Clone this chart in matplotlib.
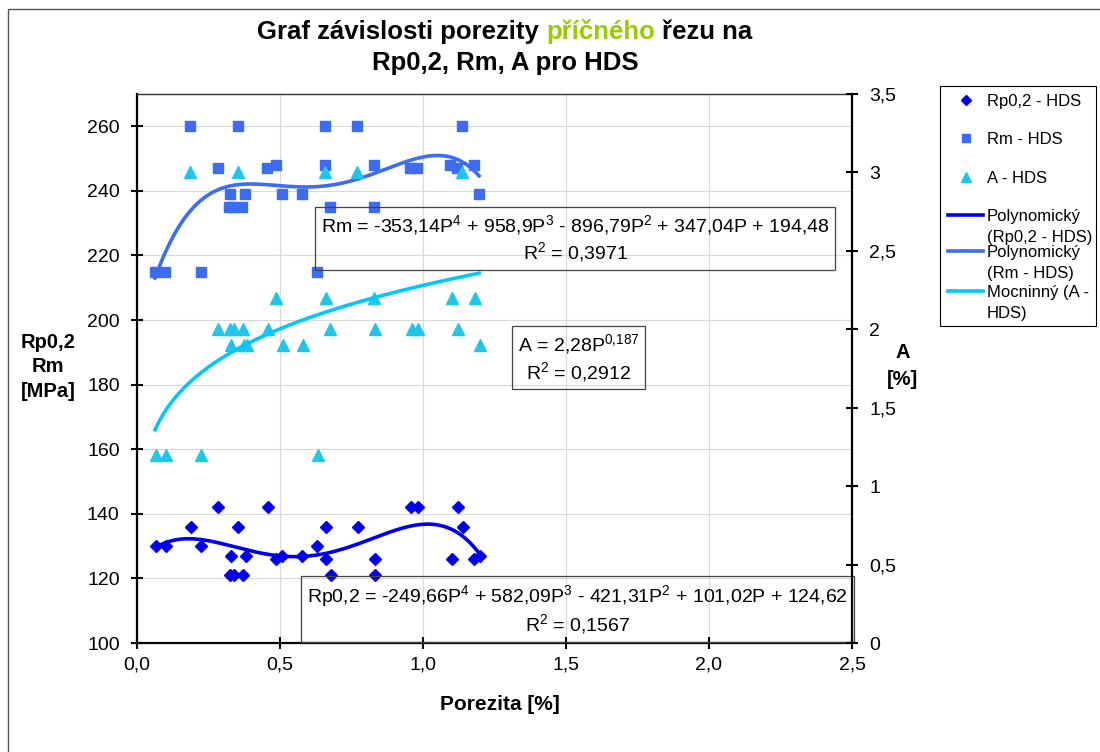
import matplotlib
matplotlib.use("Agg")
import matplotlib.pyplot as plt
import numpy as np
from matplotlib.lines import Line2D
from matplotlib.patches import Rectangle

plt.rcParams["font.family"] = ["Liberation Sans", "DejaVu Sans"]
plt.rcParams["mathtext.fontset"] = "custom"
plt.rcParams["mathtext.rm"] = "Liberation Sans"
plt.rcParams["mathtext.it"] = "Liberation Sans:italic"
plt.rcParams["mathtext.bf"] = "Liberation Sans:bold"

rp_por = [0.066, 0.101, 0.189, 0.224, 0.283, 0.325, 0.329, 0.339, 0.353, 0.371,
          0.381, 0.458, 0.486, 0.507, 0.577, 0.629, 0.661, 0.661, 0.678, 0.773,
          0.832, 0.832, 0.958, 0.983, 1.101, 1.122, 1.140, 1.178, 1.199]
rp_val = [130, 130, 136, 130, 142, 121, 127, 121, 136, 121,
          127, 142, 126, 127, 127, 130, 136, 126, 121, 136,
          126, 121, 142, 142, 126, 142, 136, 126, 127]

rm_por = [0.063, 0.098, 0.185, 0.224, 0.283, 0.322, 0.325, 0.336, 0.353, 0.367,
          0.378, 0.455, 0.486, 0.507, 0.577, 0.629, 0.657, 0.657, 0.675, 0.769,
          0.829, 0.829, 0.955, 0.979, 1.094, 1.119, 1.136, 1.178, 1.196]
rm_val = [215, 215, 260, 215, 247, 235, 239, 235, 260, 235,
          239, 247, 248, 239, 239, 215, 260, 248, 235, 260,
          248, 235, 247, 247, 248, 247, 260, 248, 239]

a_por = [0.066, 0.101, 0.185, 0.224, 0.283, 0.325, 0.329, 0.339, 0.353, 0.371,
         0.374, 0.384, 0.458, 0.486, 0.510, 0.580, 0.633, 0.657, 0.661, 0.675,
         0.769, 0.829, 0.832, 0.962, 0.983, 1.101, 1.122, 1.136, 1.182, 1.199]
a_val = [1.2, 1.2, 3.0, 1.2, 2.0, 2.0, 1.9, 2.0, 3.0, 2.0,
         1.9, 1.9, 2.0, 2.2, 1.9, 1.9, 1.2, 3.0, 2.2, 2.0,
         3.0, 2.2, 2.0, 2.0, 2.0, 2.2, 2.0, 3.0, 2.2, 1.9]

# trendline coefficients as printed in the chart
rp_coef = [-249.66, 582.09, -421.31, 101.02, 124.62]
rm_coef = [-353.14, 958.9, -896.79, 347.04, 194.48]
a_coef, a_exp = 2.28, 0.187

rp_eq = ("Rp0,2 = -249,66P$^4$ + 582,09P$^3$ - 421,31P$^2$ + 101,02P + 124,62\n"
         "R$^2$ = 0,1567")
rm_eq = ("Rm = -353,14P$^4$ + 958,9P$^3$ - 896,79P$^2$ + 347,04P + 194,48\n"
         "R$^2$ = 0,3971")
a_eq = "A = 2,28P$^{0{,}187}$\nR$^2$ = 0,2912"

x_ticks = [0, 0.5, 1.0, 1.5, 2.0, 2.5]
x_ticklabels = ["0,0", "0,5", "1,0", "1,5", "2,0", "2,5"]
left_ticks = [100, 120, 140, 160, 180, 200, 220, 240, 260]
right_ticks = [0, 0.5, 1, 1.5, 2, 2.5, 3, 3.5]
right_ticklabels = ["0", "0,5", "1", "1,5", "2", "2,5", "3", "3,5"]

legend_labels = ["Rp0,2 - HDS", "Rm - HDS", "A - HDS",
                 "Polynomický\n(Rp0,2 - HDS)", "Polynomický\n(Rm - HDS)",
                 "Mocninný (A -\nHDS)"]

c_rp = "#0000EE"
c_rm = "#3B6CF2"
c_a = "#1EC6EA"
c_a_line = "#00C8F8"

W, H = 1100, 752
fig = plt.figure(figsize=(W / 100, H / 100), dpi=100)
ax = fig.add_axes([137 / W, 1 - 643 / H, (852 - 137) / W, (643 - 94) / H])
ax2 = ax.twinx()

# outer chart border
fig.add_artist(Rectangle((8 / W, -0.1), 1.2, 1.1 - 9 / H, transform=fig.transFigure,
                         fill=False, ec="#555555", lw=1.0))

ax.plot(rp_por, rp_val, ls="none", marker="D", ms=6.5, color=c_rp, zorder=3)
ax.plot(rm_por, rm_val, ls="none", marker="s", ms=7, color=c_rm, zorder=3)
ax2.plot(a_por, a_val, ls="none", marker="^", ms=8, color=c_a, zorder=3)

xt = np.linspace(min(rm_por), max(rm_por), 200)
ax.plot(xt, np.polyval(rp_coef, xt), color=c_rp, lw=2.6, zorder=4)
ax.plot(xt, np.polyval(rm_coef, xt), color=c_rm, lw=2.6, zorder=4)
ax2.plot(xt, a_coef * xt ** a_exp, color=c_a_line, lw=2.6, zorder=4)

ax.set_xlim(0, 2.5)
ax.set_ylim(100, 270)
ax2.set_ylim(0, 3.5)
ax.set_xticks(x_ticks, x_ticklabels)
ax.set_yticks(left_ticks)
ax2.set_yticks(right_ticks, right_ticklabels)

ax.set_axisbelow(True)
ax.grid(True, color="#D9D9D9", lw=0.8)

for s in ["left", "bottom"]:
    ax.spines[s].set_linewidth(1.6)
ax.spines["right"].set_visible(False)
ax.spines["top"].set_linewidth(1.0)
ax.spines["top"].set_color("#333333")
ax2.spines["right"].set_linewidth(1.6)
for s in ["left", "bottom", "top"]:
    ax2.spines[s].set_visible(False)

ax.tick_params(axis="y", direction="inout", length=9, width=1.5, labelsize=14, pad=8)
ax.tick_params(axis="x", direction="inout", length=9, width=1.5, labelsize=14, pad=5)
ax2.tick_params(axis="y", direction="inout", length=9, width=1.5, labelsize=14, pad=8)

box = dict(boxstyle="square,pad=0.3", fc="none", ec="#444444", lw=0.9)
ax.text(1.533, 225.3, rm_eq, ha="center", va="center", fontsize=14,
        multialignment="center", bbox=box, zorder=5)
ax2.text(1.544, 1.818, a_eq, ha="center", va="center", fontsize=14,
         multialignment="center", bbox=box, zorder=5)
ax.text(1.54, 110.3, rp_eq, ha="center", va="center", fontsize=14,
        multialignment="center", bbox=box, zorder=5)

fig.text(48 / W, 1 - 367 / H, "Rp0,2\nRm\n[MPa]", ha="center", va="center",
         fontsize=14.5, fontweight="bold", linespacing=1.38)
fig.text(903 / W, 1 - 366 / H, "A\n[%]", ha="center", va="center",
         fontsize=14.5, fontweight="bold", linespacing=1.5)
fig.text(500 / W, 1 - 704 / H, "Porezita [%]", ha="center", va="center",
         fontsize=15, fontweight="bold")

# title, with the middle word in green
renderer = fig.canvas.get_renderer()
title_size = 18.5


def text_width(s):
    t = fig.text(0, 0, s, fontsize=title_size, fontweight="bold")
    w = t.get_window_extent(renderer).width
    t.remove()
    return w


title_parts = [("Graf závislosti porezity", "black"), ("příčného", "#99CC00"),
               ("řezu na", "black")]
gap = text_width("x x") - text_width("xx")
widths = [text_width(s) for s, _ in title_parts]
x0 = 505 - (sum(widths) + gap * (len(widths) - 1)) / 2
for (s, c), w in zip(title_parts, widths):
    fig.text(x0 / W, 1 - 32 / H, s, color=c, fontsize=title_size, fontweight="bold",
             ha="left", va="center")
    x0 += w + gap
fig.text(505 / W, 1 - 63 / H, "Rp0,2, Rm, A pro HDS", fontsize=title_size,
         fontweight="bold", ha="center", va="center")

# legend laid out like the Excel one: line handles sit at the first text line
fig.add_artist(Rectangle((940 / W, 1 - 326 / H), 156 / W, 240 / H,
                         transform=fig.transFigure, fill=False, ec="black", lw=0.8))
handle_styles = [
    dict(ls="none", marker="D", ms=5.5, color=c_rp),
    dict(ls="none", marker="s", ms=6, color=c_rm),
    dict(ls="none", marker="^", ms=7, color=c_a),
    dict(color=c_rp, lw=2.6),
    dict(color=c_rm, lw=2.6),
    dict(color=c_a_line, lw=2.6),
]
first_line_y = [100, 138, 177, 215, 251, 291]
for label, style, y in zip(legend_labels, handle_styles, first_line_y):
    yf = 1 - y / H
    if style.get("ls") == "none":
        xs = [966 / W]
    else:
        xs = [948 / W, 983 / W]
    fig.add_artist(Line2D(xs, [yf] * len(xs), transform=fig.transFigure, **style))
    fig.text(987 / W, 1 - (y - 6) / H, label, ha="left", va="top", fontsize=12,
             linespacing=1.5)

fig.savefig("out.png", dpi=100)
